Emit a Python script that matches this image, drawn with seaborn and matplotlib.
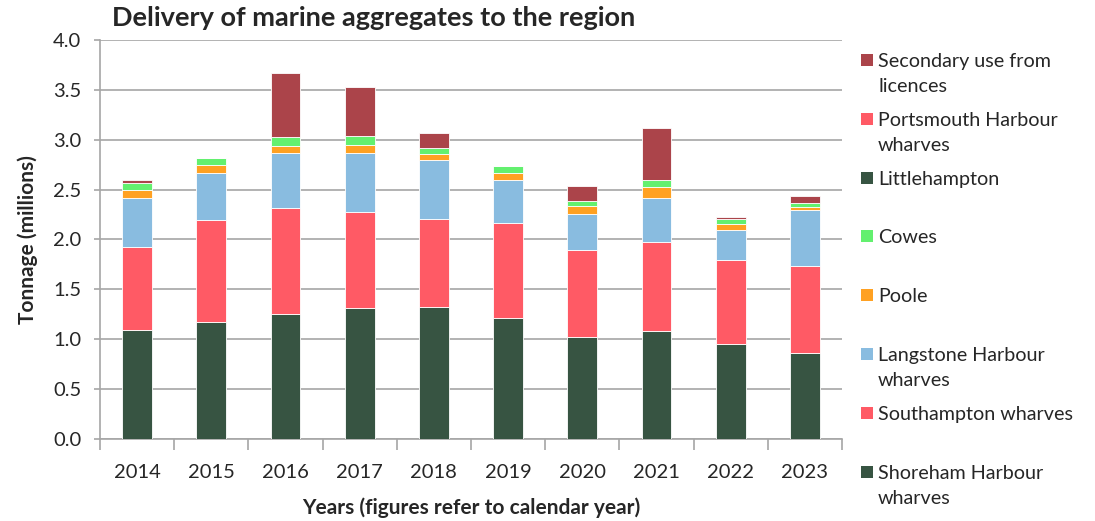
import matplotlib
matplotlib.use("Agg")
import matplotlib.pyplot as plt
from matplotlib.patches import Rectangle
import numpy as np
import pandas as pd
import seaborn as sns

# ---------------------------------------------
# Data (millions of tonnes)
# ---------------------------------------------
years = ["2014", "2015", "2016", "2017", "2018",
         "2019", "2020", "2021", "2022", "2023"]

shoreham = [1.09, 1.17, 1.25, 1.31, 1.32, 1.21, 1.02, 1.08, 0.95, 0.86]
southampton = [0.83, 1.03, 1.07, 0.97, 0.89, 0.96, 0.87, 0.89, 0.84, 0.87]
langstone = [0.50, 0.47, 0.55, 0.59, 0.59, 0.43, 0.37, 0.45, 0.31, 0.57]
poole = [0.08, 0.08, 0.07, 0.08, 0.06, 0.07, 0.08, 0.11, 0.06, 0.03]
cowes = [0.07, 0.07, 0.09, 0.09, 0.06, 0.07, 0.05, 0.07, 0.05, 0.04]
littlehampton = [0, 0, 0, 0, 0, 0, 0, 0, 0, 0]
portsmouth = [0, 0, 0, 0, 0, 0, 0, 0, 0, 0]
secondary = [0.03, 0.00, 0.64, 0.49, 0.15, 0.00, 0.15, 0.52, 0.02, 0.07]

series_names = [
    "Shoreham Harbour\nwharves",
    "Southampton wharves",
    "Langstone Harbour\nwharves",
    "Poole",
    "Cowes",
    "Littlehampton",
    "Portsmouth Harbour\nwharves",
    "Secondary use from\nlicences",
]
series_values = [shoreham, southampton, langstone, poole, cowes,
                 littlehampton, portsmouth, secondary]
series_colors = ["#375442", "#FF5A65", "#89BCE0", "#FFA122",
                 "#63F06F", "#375442", "#FF5A65", "#AB444A"]

# ---------------------------------------------
# Figure
# ---------------------------------------------
sns.set_style("white")
plt.rcParams["font.family"] = ["Lato", "DejaVu Sans"]

fig = plt.figure(figsize=(10.95, 5.21), dpi=100)
ax = fig.add_axes([100 / 1095, 1 - 439 / 521, 742 / 1095, 399 / 521])

bottom = np.zeros(len(years))
for name, vals, col in zip(series_names, series_values, series_colors):
    df = pd.DataFrame({"Year": years, "Value": vals})
    sns.barplot(data=df, x="Year", y="Value", color=col, width=0.4,
                bottom=bottom, edgecolor="white", linewidth=0.6,
                saturation=1, ax=ax, zorder=3)
    bottom = bottom + np.array(vals)

grid_c = "#A6A6A6"
ax.set_ylim(0, 4.0)
ax.set_yticks(np.arange(0, 4.01, 0.5))
ax.set_yticklabels([f"{v:.1f}" for v in np.arange(0, 4.01, 0.5)])
ax.yaxis.grid(True, color=grid_c, linewidth=1.2, zorder=0)
ax.set_axisbelow(True)
ax.set_xlim(-0.5, len(years) - 0.5)

for s in ["top", "right"]:
    ax.spines[s].set_visible(False)
for s in ["left", "bottom"]:
    ax.spines[s].set_color(grid_c)
    ax.spines[s].set_linewidth(1.2)

# y ticks outward, x ticks between categories
ax.tick_params(axis="y", which="major", length=4.5, color=grid_c,
               width=1.2, labelsize=14.5, pad=9, left=True)
ax.set_xticks(np.arange(len(years)))
ax.set_xticklabels(years)
ax.tick_params(axis="x", which="major", length=0, labelsize=14.5, pad=18)
ax.set_xticks(np.arange(-0.5, len(years), 1.0), minor=True)
ax.tick_params(axis="x", which="minor", length=8, color=grid_c,
               width=1.2, bottom=True)

ax.set_xlabel("Years (figures refer to calendar year)", fontsize=15,
              fontweight="bold", labelpad=12)
ax.set_ylabel("Tonnage (millions)", fontsize=15, fontweight="bold",
              labelpad=10)
ax.yaxis.set_label_coords(-62 / 742, 0.5)

fig.text(112 / 1095, 1 - 18 / 521, "Delivery of marine aggregates to the region",
         fontsize=19.5, fontweight="bold", ha="left", va="center")

# Legend (reverse order, Excel style: evenly spaced entries)
leg_top = 60
leg_step = 58.8
for i, (name, col) in enumerate(zip(series_names[::-1], series_colors[::-1])):
    yc = leg_top + i * leg_step
    fig.add_artist(Rectangle((861 / 1095, 1 - (yc + 6) / 521), 12 / 1095, 12 / 521,
                             transform=fig.transFigure, facecolor=col,
                             edgecolor="none"))
    fig.text(878 / 1095, 1 - (yc - 7) / 521, name, fontsize=14.2,
             ha="left", va="top", linespacing=1.6)

fig.savefig("out.png", dpi=100)
